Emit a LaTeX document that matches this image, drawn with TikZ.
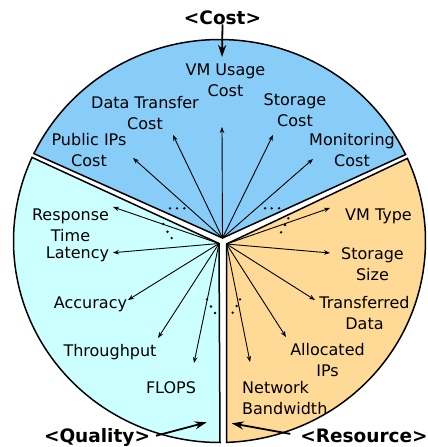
\documentclass[tikz,border=0pt]{standalone}
\usepackage{fontspec}
\setmainfont{DejaVu Sans}
\usetikzlibrary{arrows.meta}
\definecolor{costblue}{RGB}{136,204,248}
\definecolor{qualcyan}{RGB}{204,255,255}
\definecolor{resorange}{RGB}{255,217,150}
\tikzset{
  sector/.style={draw=black, line width=1.5pt, line join=miter},
  lbl/.style={inner sep=0pt, anchor=base, align=center, font=\fontsize{16}{21}\selectfont},
  ttl/.style={inner sep=0pt, anchor=base, font=\fontsize{18.5}{22}\selectfont\bfseries},
  feat/.style={line width=0.9pt, -{Stealth[length=6pt,width=4.5pt]}},
  bigarrow/.style={line width=1.8pt, -{Stealth[length=12pt,width=8pt]}},
  dotmark/.style={fill=black, circle, inner sep=0pt, minimum size=2.6pt},
}
\begin{document}
\begin{tikzpicture}[x=1pt,y=-1pt]
\useasboundingbox (0,0) rectangle (428,447);
% apexes
\coordinate (cA) at (222.5,238);
\coordinate (qA) at (219,243.5);
\coordinate (rA) at (226.5,244);
% sectors
\filldraw[sector, fill=costblue] (cA) -- plot[domain=25.4:154.3, samples=90] ({219.5+206*cos(\x)},{241-201.5*sin(\x)}) -- cycle;
\filldraw[sector, fill=qualcyan] (qA) -- plot[domain=155.5:270.14, samples=90] ({219.5+206*cos(\x)},{241-201.5*sin(\x)}) -- cycle;
\filldraw[sector, fill=resorange] (rA) -- plot[domain=-88.05:24.2, samples=90] ({219.5+206*cos(\x)},{241-201.5*sin(\x)}) -- cycle;

% Cost labels (base = baseline of last line)
\node[lbl] (vmu) at (225.5,96.5) {VM Usage\\Cost};
\node[lbl] (dtc) at (145,129.3) {Data Transfer\\Cost};
\node[lbl] (stc) at (295,126) {Storage\\Cost};
\node[lbl] (pipc) at (89,166.7) {Public IPs\\Cost};
\node[lbl] (monc) at (352,166.7) {Monitoring\\Cost};
\node[ttl] (costt) at (222.5,24) {<Cost>};
% Quality labels
\node[lbl] (rt) at (70.5,241) {Response\\Time};
\node[lbl] (lat) at (77.5,258.3) {Latency};
\node[lbl] (acc) at (90.5,308.3) {Accuracy};
\node[lbl] (thr) at (110,356.7) {Throughput};
\node[lbl] (flops) at (171,393.3) {FLOPS};
\node[ttl] (qualt) at (97,442.3) {<Quality>};
% Resource labels
\node[lbl] (vmt) at (378.5,220) {VM Type};
\node[lbl] (ss) at (372.5,280) {Storage\\Size};
\node[lbl] (td) at (364.5,329.3) {Transferred\\Data};
\node[lbl] (aip) at (327.5,376.7) {Allocated\\IPs};
\node[lbl, anchor=base west, align=left] (nb) at (242,414.3) {Network\\Bandwidth};
\node[ttl] (rest) at (364,442.3) {<Resource>};

% arrow tips
\coordinate (t1) at (222,127);
\coordinate (t2) at (173,135);
\coordinate (t3) at (273,135);
\coordinate (t4) at (133,158);
\coordinate (t5) at (313,159);
\coordinate (q1) at (113,207);
\coordinate (q2) at (113,252.7);
\coordinate (q3) at (128,300);
\coordinate (q4) at (158,338);
\coordinate (q5) at (194,363);
\coordinate (r1) at (330,208);
\coordinate (r2) at (330,253);
\coordinate (r3) at (315,300);
\coordinate (r4) at (286,337);
\coordinate (r5) at (250,362);
\foreach \t in {t1,t2,t3,t4,t5} \draw[feat] (cA) -- (\t);
\foreach \t in {q1,q2,q3,q4,q5} \draw[feat] (qA) -- (\t);
\foreach \t in {r1,r2,r3,r4,r5} \draw[feat] (rA) -- (\t);

% dots
\node[dotmark] (cd1) at (170,208.3) {};
\node[dotmark] (cd2) at (177,208.3) {};
\node[dotmark] (cd3) at (184.3,208.3) {};
\node[dotmark] (cd4) at (265,208.3) {};
\node[dotmark] (cd5) at (271.7,208.3) {};
\node[dotmark] (cd6) at (279,208.3) {};
\node[dotmark] (qd1) at (163.3,224) {};
\node[dotmark] (qd2) at (167.5,231.7) {};
\node[dotmark] (qd3) at (171.7,238) {};
\node[dotmark] (qd4) at (207,299.3) {};
\node[dotmark] (qd5) at (211,306.5) {};
\node[dotmark] (qd6) at (215,313) {};
\node[dotmark] (rd1) at (288.3,218.3) {};
\node[dotmark] (rd2) at (285,225) {};
\node[dotmark] (rd3) at (281,232.3) {};
\node[dotmark] (rd4) at (240,299.3) {};
\node[dotmark] (rd5) at (236.7,306) {};
\node[dotmark] (rd6) at (232.7,312.7) {};

% big arrows
\coordinate (ctip) at (222,57);
\coordinate (qtip) at (206.7,422.3);
\coordinate (rtip) at (231.7,423.3);
\draw[bigarrow] (costt.south) -- (ctip);
\draw[bigarrow, shorten <=6pt] (qualt.east) -- (qtip);
\draw[bigarrow, shorten <=10pt] (rest.west) -- (rtip);
\end{tikzpicture}
\end{document}
